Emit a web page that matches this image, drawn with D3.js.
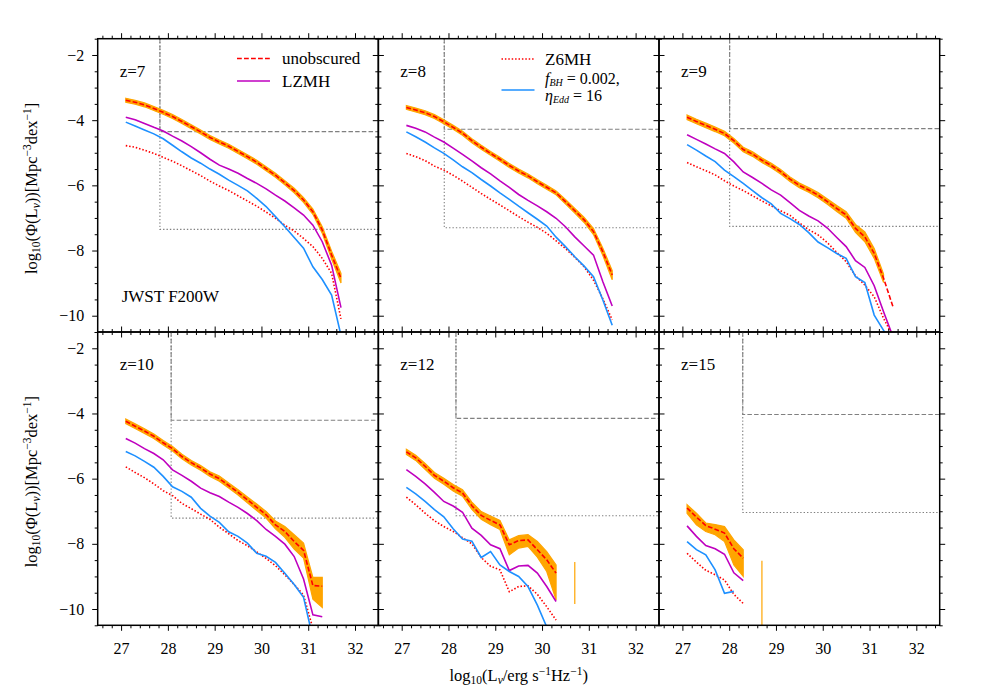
<!DOCTYPE html>
<html>
<head>
<meta charset="utf-8">
<script src="https://cdn.jsdelivr.net/npm/d3@7"></script>
<style>
body { margin: 0; background: #fff; }
svg text { font-family: "Liberation Serif", "Times New Roman", "DejaVu Serif", serif !important; }
</style>
</head>
<body>
<div id="chart"></div>
<script>
// luminosity bins, log10(L_nu / erg s^-1 Hz^-1)
var lumBins = [27.1, 27.3, 27.5, 27.7, 27.9, 28.1, 28.3, 28.5, 28.7, 28.9, 29.1, 29.3,
               29.5, 29.7, 29.9, 30.1, 30.3, 30.5, 30.7, 30.9, 31.1, 31.3, 31.5, 31.7];
var redshifts = [7, 8, 9, 10, 12, 15];

// unobscured (red dashed) with its orange range
var unobscured = [
  [-3.39,-3.45,-3.53,-3.64,-3.76,-3.89,-4.04,-4.20,-4.36,-4.53,-4.67,-4.80,-4.96,-5.12,-5.29,-5.49,-5.69,-5.92,-6.16,-6.45,-6.81,-7.37,-8.14,-8.85],
  [-3.61,-3.69,-3.77,-3.89,-4.05,-4.22,-4.40,-4.63,-4.83,-5.02,-5.20,-5.39,-5.56,-5.71,-5.89,-6.06,-6.23,-6.50,-6.78,-7.06,-7.42,-8.04,-8.75],
  [-3.91,-4.04,-4.16,-4.28,-4.41,-4.63,-4.90,-5.04,-5.23,-5.39,-5.58,-5.81,-6.00,-6.14,-6.30,-6.50,-6.71,-6.91,-7.32,-7.58,-8.09,-8.85,-9.72],
  [-4.24,-4.39,-4.54,-4.70,-4.90,-5.08,-5.32,-5.51,-5.67,-5.86,-6.00,-6.21,-6.42,-6.65,-6.88,-7.11,-7.42,-7.62,-7.93,-8.20,-9.28,-9.30],
  [-5.18,-5.36,-5.62,-5.90,-6.08,-6.28,-6.44,-6.83,-7.13,-7.28,-7.42,-8.03,-7.90,-7.88,-8.18,-8.49,-8.90,null,-9.20],
  [-6.90,-7.18,-7.44,-7.55,-7.67,-8.15,-8.44,null,-9.50]
];
var unobscuredHi = [
  [-3.33,-3.39,-3.47,-3.58,-3.70,-3.83,-3.98,-4.14,-4.30,-4.47,-4.61,-4.74,-4.90,-5.06,-5.23,-5.43,-5.63,-5.86,-6.09,-6.38,-6.73,-7.27,-8.02,-8.70],
  [-3.55,-3.63,-3.71,-3.83,-3.99,-4.16,-4.34,-4.57,-4.77,-4.96,-5.14,-5.33,-5.50,-5.65,-5.83,-6.00,-6.17,-6.43,-6.71,-6.98,-7.33,-7.93,-8.62],
  [-3.84,-3.97,-4.09,-4.21,-4.34,-4.56,-4.83,-4.97,-5.16,-5.32,-5.51,-5.74,-5.93,-6.07,-6.22,-6.42,-6.62,-6.81,-7.20,-7.43,-7.94,-8.72],
  [-4.17,-4.32,-4.47,-4.63,-4.83,-5.01,-5.25,-5.44,-5.60,-5.79,-5.92,-6.13,-6.34,-6.56,-6.78,-7.01,-7.30,-7.47,-7.72,-7.98,-9.03,-9.03],
  [-5.10,-5.28,-5.53,-5.81,-5.99,-6.18,-6.34,-6.72,-7.01,-7.15,-7.28,-7.88,-7.75,-7.72,-7.93,-8.24,-8.65,null,-8.56],
  [-6.80,-7.06,-7.36,-7.41,-7.47,-7.88,-8.18,null,-8.52]
];
var unobscuredLo = [
  [-3.45,-3.51,-3.59,-3.70,-3.82,-3.95,-4.10,-4.26,-4.42,-4.59,-4.73,-4.86,-5.02,-5.18,-5.35,-5.55,-5.75,-5.98,-6.23,-6.52,-6.89,-7.47,-8.26,-9.00],
  [-3.67,-3.75,-3.83,-3.95,-4.11,-4.28,-4.46,-4.69,-4.89,-5.08,-5.26,-5.45,-5.62,-5.77,-5.95,-6.12,-6.29,-6.57,-6.85,-7.14,-7.51,-8.15,-8.90],
  [-3.98,-4.11,-4.23,-4.35,-4.48,-4.70,-4.97,-5.11,-5.30,-5.46,-5.65,-5.88,-6.07,-6.21,-6.38,-6.58,-6.80,-7.01,-7.44,-7.73,-8.24,-8.98],
  [-4.31,-4.46,-4.61,-4.77,-4.97,-5.15,-5.39,-5.58,-5.74,-5.93,-6.08,-6.29,-6.50,-6.74,-6.98,-7.21,-7.54,-7.80,-8.16,-8.44,-9.70,-9.95],
  [-5.26,-5.44,-5.71,-5.99,-6.17,-6.38,-6.54,-6.94,-7.25,-7.41,-7.56,-8.34,-8.13,-8.08,-8.41,-8.85,-9.72,null,-9.85],
  [-7.06,-7.42,-7.62,-7.72,-7.93,-8.65,-9.00,null,-11.5]
];
// LZMH (magenta)
var lzmh = [
  [-3.91,-3.99,-4.10,-4.22,-4.33,-4.49,-4.64,-4.81,-5.00,-5.20,-5.38,-5.50,-5.63,-5.79,-5.94,-6.11,-6.30,-6.48,-6.69,-6.91,-7.22,-7.73,-8.45,-9.75],
  [-4.16,-4.25,-4.36,-4.52,-4.67,-4.86,-5.05,-5.25,-5.46,-5.65,-5.86,-6.06,-6.28,-6.46,-6.63,-6.81,-7.01,-7.27,-7.58,-7.86,-8.14,-8.96,-9.70],
  [-4.45,-4.59,-4.73,-4.88,-5.02,-5.28,-5.59,-5.76,-5.94,-6.14,-6.30,-6.53,-6.77,-6.94,-7.09,-7.31,-7.60,-7.88,-8.31,-8.52,-9.08,-9.88,-10.64],
  [-4.77,-4.91,-5.08,-5.23,-5.42,-5.73,-5.90,-6.08,-6.29,-6.43,-6.55,-6.72,-6.88,-7.07,-7.29,-7.56,-7.77,-8.01,-8.39,-9.08,-10.18,-10.24],
  [-5.72,-5.93,-6.16,-6.42,-6.70,-6.84,-7.03,-7.52,-7.74,-8.03,-8.15,-8.82,-8.68,-8.66,-8.90,-9.31,-9.77],
  [-7.45,-7.77,-8.05,-8.15,-8.32,-8.89,-9.13]
];
// Z6MH (red dotted)
var z6mh = [
  [-4.78,-4.83,-4.92,-5.02,-5.14,-5.26,-5.40,-5.55,-5.70,-5.87,-6.02,-6.16,-6.32,-6.48,-6.64,-6.82,-7.01,-7.22,-7.40,-7.63,-7.88,-8.24,-8.70,-10.10],
  [-5.02,-5.12,-5.24,-5.41,-5.53,-5.69,-5.87,-6.06,-6.25,-6.43,-6.60,-6.78,-6.96,-7.13,-7.29,-7.47,-7.70,-7.94,-8.21,-8.50,-8.91,-9.48,-10.13],
  [-5.30,-5.43,-5.55,-5.68,-5.86,-6.02,-6.16,-6.32,-6.48,-6.63,-6.78,-6.92,-7.15,-7.36,-7.52,-7.76,-8.06,-8.34,-8.78,-9.06,-9.42,-10.08,-10.64],
  [-5.64,-5.81,-5.97,-6.16,-6.37,-6.52,-6.76,-6.92,-7.09,-7.25,-7.49,-7.69,-7.90,-8.06,-8.25,-8.45,-8.67,-8.95,-9.25,-9.57,-10.60],
  [-6.57,-6.80,-7.06,-7.29,-7.47,-7.62,-7.81,-8.00,-8.42,-8.69,-8.80,-9.47,-9.31,-9.29,-9.55,-9.93,-10.34],
  [-8.29,-8.56,-8.81,-8.95,-9.11,-9.55,-9.83]
];
// f_BH = 0.002, eta_Edd = 16 (blue)
var fbh = [
  [-4.06,-4.18,-4.30,-4.42,-4.57,-4.77,-4.97,-5.16,-5.32,-5.50,-5.66,-5.84,-6.00,-6.17,-6.40,-6.65,-6.96,-7.27,-7.60,-7.93,-8.50,-8.89,-9.37,-10.60],
  [-4.36,-4.51,-4.67,-4.85,-5.02,-5.22,-5.43,-5.61,-5.82,-6.02,-6.23,-6.43,-6.64,-6.84,-7.04,-7.25,-7.59,-7.88,-8.19,-8.48,-8.80,-9.52,-10.29],
  [-4.75,-4.92,-5.10,-5.27,-5.53,-5.73,-5.94,-6.16,-6.38,-6.57,-6.86,-7.02,-7.20,-7.45,-7.74,-7.91,-8.09,-8.24,-8.80,-8.98,-9.98,-10.45,-10.90],
  [-5.17,-5.30,-5.47,-5.65,-5.93,-6.25,-6.39,-6.57,-6.91,-7.15,-7.34,-7.63,-7.77,-7.98,-8.29,-8.38,-8.57,-8.90,-9.25,-9.64,-10.90],
  [-6.27,-6.47,-6.70,-6.95,-7.17,-7.54,-7.85,-7.92,-8.42,-8.24,-8.65,-8.85,-9.00,-9.31,-9.88,-10.55],
  [-7.93,-8.18,-8.34,-8.80,-9.52,-9.46]
];
// survey limits (grey)
var limLum = [27.83, 27.91, 28.01, 28.07, 28.16, 28.29];
var limPhiDashed = [-4.35, -4.28, -4.26, -4.21, -4.15, -4.03];
var limPhiDotted = [-7.35, -7.30, -7.26, -7.21, -7.14, -7.04];

var xMajor = [27, 28, 29, 30, 31, 32];
var yMajor = [-2, -4, -6, -8, -10];

var W = 981, H = 699;
var colX = [97.7, 378.3, 659.0], panelW = 280.7;
var rowY = [38.7, 332.0], panelH = 293.3;
var serif = '"Liberation Serif", "Times New Roman", "DejaVu Serif", serif';

var xMinor = d3.range(26.6, 32.45, 0.2).filter(v => Math.abs(v - Math.round(v)) > 0.05);
var yMinor = d3.range(-10.5, -1.45, 0.5).filter(v => Math.abs(v / 2 - Math.round(v / 2)) > 0.05);

var svg = d3.select("#chart").append("svg")
    .attr("width", W)
    .attr("height", H)
    .attr("font-family", serif);
svg.append("rect").attr("width", W).attr("height", H).attr("fill", "white");

var red = "#ff0000", magenta = "#bf00bf", blue = "#1e90ff", orange = "#ffa500", grey = "#808080";

function styleAxis(a, withLabels) {
    a.attr("font-family", serif);
    a.select(".domain").remove();
    a.selectAll("line").attr("stroke", "black").attr("stroke-width", 1);
    a.selectAll("text").attr("font-size", 16).attr("fill", "black");
    if (!withLabels) a.selectAll("text").remove();
}

redshifts.forEach(function(z, i) {
    var col = i % 3, row = Math.floor(i / 3);
    var x = d3.scaleLinear().domain([26.5, 32.5]).range([colX[col], colX[col] + panelW]);
    var y = d3.scaleLinear().domain([-10.5, -1.5]).range([rowY[row] + panelH, rowY[row]]);

    svg.append("clipPath").attr("id", "clip" + i)
        .append("rect")
        .attr("x", colX[col]).attr("y", rowY[row])
        .attr("width", panelW).attr("height", panelH);

    var plot = svg.append("g").attr("clip-path", "url(#clip" + i + ")");

    var path = d3.line().x(d => x(d[0])).y(d => y(d[1]));
    // grey survey limits
    plot.append("path")
        .attr("d", path([[limLum[i], -1.5], [limLum[i], limPhiDotted[i]], [32.5, limPhiDotted[i]]]))
        .attr("fill", "none").attr("stroke", grey).attr("stroke-width", 1.1)
        .attr("stroke-dasharray", "1.4,2");
    plot.append("path")
        .attr("d", path([[limLum[i], -1.5], [limLum[i], limPhiDashed[i]], [32.5, limPhiDashed[i]]]))
        .attr("fill", "none").attr("stroke", grey).attr("stroke-width", 1.1)
        .attr("stroke-dasharray", "4.5,2.2");

    var band = lumBins.map((l, k) => ({ x: l, lo: unobscuredLo[i][k], hi: unobscuredHi[i][k] }));
    var area = d3.area()
        .defined(d => d.lo != null && d.hi != null)
        .x(d => x(d.x)).y0(d => y(d.lo)).y1(d => y(d.hi));
    plot.append("path")
        .attr("d", area(band))
        .attr("fill", orange).attr("stroke", orange).attr("stroke-width", 1.2);

    var line = d3.line()
        .defined(d => d[1] != null)
        .x(d => x(d[0])).y(d => y(d[1]));
    function series(vals) { return lumBins.map((l, k) => [l, vals[k]]); }

    plot.append("path").attr("d", line(series(unobscured[i])))
        .attr("fill", "none").attr("stroke", red).attr("stroke-width", 1.6)
        .attr("stroke-dasharray", "4.8,2.2");
    plot.append("path").attr("d", line(series(lzmh[i])))
        .attr("fill", "none").attr("stroke", magenta).attr("stroke-width", 1.6);
    plot.append("path").attr("d", line(series(z6mh[i])))
        .attr("fill", "none").attr("stroke", red).attr("stroke-width", 1.6)
        .attr("stroke-dasharray", "1.5,1.9");
    plot.append("path").attr("d", line(series(fbh[i])))
        .attr("fill", "none").attr("stroke", blue).attr("stroke-width", 1.6);

    // ticks on all four sides
    var bottom = rowY[row] + panelH, top = rowY[row];
    var ax;
    ax = svg.append("g").attr("transform", "translate(0," + bottom + ")")
        .call(d3.axisBottom(x).tickValues(xMajor).tickSize(5.5).tickPadding(12).tickFormat(d3.format("d")));
    styleAxis(ax, row === 1);
    ax = svg.append("g").attr("transform", "translate(0," + bottom + ")")
        .call(d3.axisBottom(x).tickValues(xMinor).tickSize(3).tickFormat(""));
    styleAxis(ax, false);
    ax = svg.append("g").attr("transform", "translate(0," + top + ")")
        .call(d3.axisTop(x).tickValues(xMajor).tickSize(5.5));
    styleAxis(ax, false);
    ax = svg.append("g").attr("transform", "translate(0," + top + ")")
        .call(d3.axisTop(x).tickValues(xMinor).tickSize(3));
    styleAxis(ax, false);
    ax = svg.append("g").attr("transform", "translate(" + colX[col] + ",0)")
        .call(d3.axisLeft(y).tickValues(yMajor).tickSize(5.5).tickPadding(8));
    styleAxis(ax, col === 0);
    ax = svg.append("g").attr("transform", "translate(" + colX[col] + ",0)")
        .call(d3.axisLeft(y).tickValues(yMinor).tickSize(3));
    styleAxis(ax, false);
    ax = svg.append("g").attr("transform", "translate(" + (colX[col] + panelW) + ",0)")
        .call(d3.axisRight(y).tickValues(yMajor).tickSize(5.5));
    styleAxis(ax, false);
    ax = svg.append("g").attr("transform", "translate(" + (colX[col] + panelW) + ",0)")
        .call(d3.axisRight(y).tickValues(yMinor).tickSize(3));
    styleAxis(ax, false);

    svg.append("rect")
        .attr("x", colX[col]).attr("y", rowY[row])
        .attr("width", panelW).attr("height", panelH)
        .attr("fill", "none").attr("stroke", "black").attr("stroke-width", 1.5);

    svg.append("text")
        .attr("x", colX[col] + 22).attr("y", rowY[row] + 38)
        .attr("font-size", 17)
        .text("z=" + z);
});

svg.append("text")
    .attr("x", colX[0] + 24).attr("y", rowY[0] + 263)
    .attr("font-size", 17)
    .text("JWST F200W");

// legends
function legendLine(x0, yy, color, dash) {
    svg.append("line")
        .attr("x1", x0).attr("x2", x0 + 33).attr("y1", yy).attr("y2", yy)
        .attr("stroke", color).attr("stroke-width", 1.6)
        .attr("stroke-dasharray", dash);
}
legendLine(237, 58.5, red, "4.8,2.2");
legendLine(237, 81, magenta, null);
svg.append("text").attr("x", 282).attr("y", 64).attr("font-size", 17).text("unobscured");
svg.append("text").attr("x", 282).attr("y", 86.5).attr("font-size", 17).text("LZMH");

legendLine(501.5, 59, red, "1.5,1.9");
legendLine(501.5, 90, blue, null);
svg.append("text").attr("x", 545).attr("y", 64.5).attr("font-size", 17).text("Z6MH");
var t1 = svg.append("text").attr("x", 545).attr("y", 84).attr("font-size", 16);
t1.append("tspan").attr("font-style", "italic").text("f");
t1.append("tspan").attr("font-style", "italic").attr("font-size", 10).attr("baseline-shift", "-2").text("BH");
t1.append("tspan").text(" = 0.002,");
var t2 = svg.append("text").attr("x", 545).attr("y", 101).attr("font-size", 16);
t2.append("tspan").attr("font-style", "italic").text("η");
t2.append("tspan").attr("font-style", "italic").attr("font-size", 10).attr("baseline-shift", "-2").text("Edd");
t2.append("tspan").text(" = 16");

// axis titles
function yTitle(cy) {
    var t = svg.append("text")
        .attr("transform", "translate(37," + cy + ") rotate(-90)")
        .attr("text-anchor", "middle")
        .attr("font-size", 16.5);
    t.append("tspan").text("log");
    t.append("tspan").attr("font-size", 11.5).attr("baseline-shift", "-3").text("10");
    t.append("tspan").text("(Φ(L");
    t.append("tspan").attr("font-size", 11.5).attr("baseline-shift", "-3").attr("font-style", "italic").text("ν");
    t.append("tspan").text("))[Mpc");
    t.append("tspan").attr("font-size", 11.5).attr("baseline-shift", "6").text("−3");
    t.append("tspan").text("dex");
    t.append("tspan").attr("font-size", 11.5).attr("baseline-shift", "6").text("−1");
    t.append("tspan").text("]");
}
yTitle(rowY[0] + panelH / 2 + 3);
yTitle(rowY[1] + panelH / 2 + 3);

var xt = svg.append("text")
    .attr("x", (colX[0] + colX[2] + panelW) / 2).attr("y", 681)
    .attr("text-anchor", "middle")
    .attr("font-size", 16.5);
xt.append("tspan").text("log");
xt.append("tspan").attr("font-size", 11.5).attr("baseline-shift", "-3").text("10");
xt.append("tspan").text("(L");
xt.append("tspan").attr("font-size", 11.5).attr("baseline-shift", "-3").attr("font-style", "italic").text("ν");
xt.append("tspan").text("/erg s");
xt.append("tspan").attr("font-size", 11.5).attr("baseline-shift", "6").text("−1");
xt.append("tspan").text("Hz");
xt.append("tspan").attr("font-size", 11.5).attr("baseline-shift", "6").text("−1");
xt.append("tspan").text(")");
</script>
</body>
</html>
